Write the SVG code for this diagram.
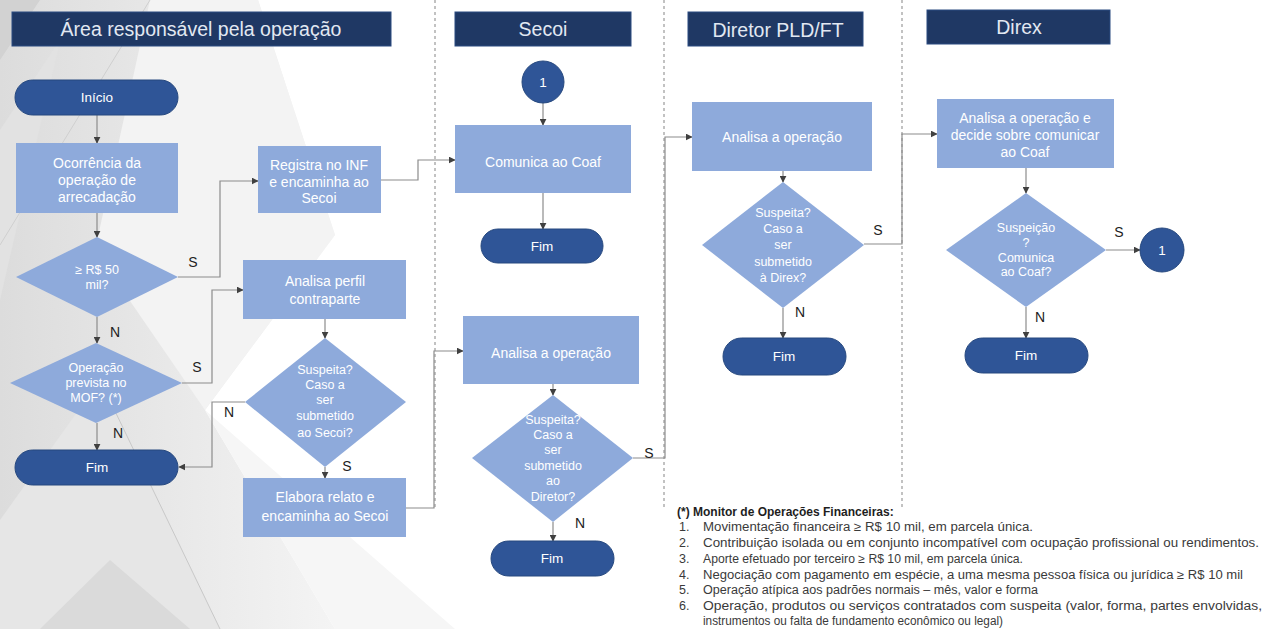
<svg xmlns="http://www.w3.org/2000/svg" width="1270" height="629" viewBox="0 0 1270 629">
<style>
.hdr{fill:#1f3864;stroke:#2a4a80;stroke-width:1}
.hdrt{fill:#e2e8f2;font-family:"Liberation Sans",Arial,sans-serif;font-size:19.5px;text-anchor:middle}
.term{fill:#2f5597;stroke:#27497f;stroke-width:1}
.proc{fill:#8eaadb}
.dec{fill:#8eaadb}
.nt{fill:#ffffff;font-family:"Liberation Sans",Arial,sans-serif;font-size:14px;text-anchor:middle}
.dt{fill:#ffffff;font-family:"Liberation Sans",Arial,sans-serif;font-size:12.5px;text-anchor:middle}
.tt{fill:#ffffff;font-family:"Liberation Sans",Arial,sans-serif;font-size:13.5px;text-anchor:middle}
.lbl{fill:#222;font-family:"Liberation Sans",Arial,sans-serif;font-size:14px;text-anchor:middle}
.con{fill:none;stroke:#8c8c8c;stroke-width:1.2;marker-end:url(#ah)}
.lane{stroke:#9a9a9a;stroke-width:1.2;stroke-dasharray:3 3}
.fn{fill:#3a3a3a;font-family:"Liberation Sans",Arial,sans-serif;font-size:12.5px}
.fnb{fill:#1e1e1e;font-family:"Liberation Sans",Arial,sans-serif;font-size:12px;font-weight:bold}
</style>
<defs>
<marker id="ah" viewBox="0 0 10 10" refX="9" refY="5" markerWidth="7" markerHeight="7" orient="auto" markerUnits="userSpaceOnUse">
<path d="M0,0 L10,5 L0,10 z" fill="#404040"/>
</marker>
<linearGradient id="bg1" x1="0" y1="0" x2="1" y2="0">
<stop offset="0" stop-color="#dcdcdc"/>
<stop offset="1" stop-color="#f4f4f4"/>
</linearGradient>
</defs>
<rect width="1270" height="629" fill="#ffffff"/>
<g id="background">
<polygon points="0,0 258,0 335,235 205,410 335,629 0,629" fill="url(#bg1)"/>
<polygon points="150,0 258,0 335,235 205,410 95,250" fill="#f3f3f3"/>
<polygon points="0,0 40,0 0,60" fill="#d2d2d2"/>
<polygon points="0,130 60,40 0,300" fill="#e2e2e2"/>
<polygon points="205,410 335,629 455,629" fill="#f6f6f6"/>
<polygon points="100,380 220,629 0,629 0,520" fill="#e6e6e6"/>
<polygon points="40,629 110,560 190,629" fill="#dadada"/>
<line x1="150" y1="0" x2="0" y2="245" stroke="#cfcfcf" stroke-width="1"/>
<line x1="100" y1="380" x2="220" y2="629" stroke="#c8c8c8" stroke-width="1"/>
</g>
<g id="lanes">
<line class="lane" x1="435" y1="0" x2="435" y2="508"/>
<line class="lane" x1="664" y1="0" x2="664" y2="508"/>
<line class="lane" x1="902" y1="0" x2="902" y2="508"/>
</g>
<g id="headers">
<g id="h-area"><rect class="hdr" x="12" y="12" width="379" height="34"/><text class="hdrt" x="201" y="36">Área responsável pela operação</text></g>
<g id="h-secoi"><rect class="hdr" x="455" y="12" width="176" height="34"/><text class="hdrt" x="543" y="36">Secoi</text></g>
<g id="h-diretor"><rect class="hdr" x="688" y="12" width="175" height="34"/><text class="hdrt" x="778" y="37">Diretor PLD/FT</text></g>
<g id="h-direx"><rect class="hdr" x="927" y="10" width="183" height="34"/><text class="hdrt" x="1019" y="34">Direx</text></g>
</g>
<g id="connectors">
<path class="con" d="M97,115 V143"/>
<path class="con" d="M97,213 V237"/>
<path class="con" d="M178,277 H220 V181 H258"/>
<path class="con" d="M97,317 V343"/>
<path class="con" d="M182,383 H212 V290 H243"/>
<path class="con" d="M97,423 V450"/>
<path class="con" d="M325,319 V338"/>
<path class="con" d="M245,402 H212 V467 H179"/>
<path class="con" d="M325,467 V478"/>
<path class="con" d="M406,508 H434 V351 H463"/>
<path class="con" d="M381,180 H418 V160 H455"/>
<path class="con" d="M543,103 V125"/>
<path class="con" d="M543,193 V229"/>
<path class="con" d="M553,384 V395"/>
<path class="con" d="M553,522 V541"/>
<path class="con" d="M633,458 H665 V137 H692"/>
<path class="con" d="M783,171 V182"/>
<path class="con" d="M783,308 V338"/>
<path class="con" d="M864,244 H902 V134 H937"/>
<path class="con" d="M1026,168 V193"/>
<path class="con" d="M1106,250 H1140"/>
<path class="con" d="M1026,307 V338"/>
<text class="lbl" x="193" y="267">S</text>
<text class="lbl" x="115" y="337">N</text>
<text class="lbl" x="197" y="372">S</text>
<text class="lbl" x="118" y="438">N</text>
<text class="lbl" x="229" y="417">N</text>
<text class="lbl" x="347" y="471">S</text>
<text class="lbl" x="580" y="528">N</text>
<text class="lbl" x="649" y="458">S</text>
<text class="lbl" x="800" y="317">N</text>
<text class="lbl" x="878" y="235">S</text>
<text class="lbl" x="1119" y="237">S</text>
<text class="lbl" x="1040" y="322">N</text>
</g>
<g id="n-inicio"><rect class="term" x="15" y="80" width="163" height="35" rx="17.5"/><text class="tt" x="97" y="102">Início</text></g>
<g id="n-ocorrencia"><rect class="proc" x="16" y="143" width="162" height="70"/><text class="nt" x="97" y="168">Ocorrência da</text><text class="nt" x="97" y="185">operação de</text><text class="nt" x="97" y="202">arrecadação</text></g>
<g id="n-d50"><polygon class="dec" points="97,237 178,277 97,317 16,277"/><text class="dt" x="97" y="274">≥ R$ 50</text><text class="dt" x="97" y="289">mil?</text></g>
<g id="n-dmof"><polygon class="dec" points="96,343 182,383 96,423 10,383"/><text class="dt" x="96" y="372">Operação</text><text class="dt" x="96" y="387">prevista no</text><text class="dt" x="96" y="402">MOF? (*)</text></g>
<g id="n-fim1"><rect class="term" x="15" y="450" width="163" height="35" rx="17.5"/><text class="tt" x="97" y="472">Fim</text></g>
<g id="n-registra"><rect class="proc" x="258" y="146" width="123" height="67"/><text class="nt" x="319" y="170">Registra no INF</text><text class="nt" x="319" y="187">e encaminha ao</text><text class="nt" x="319" y="203">Secoi</text></g>
<g id="n-perfil"><rect class="proc" x="243" y="260" width="163" height="59"/><text class="nt" x="325" y="286">Analisa perfil</text><text class="nt" x="325" y="304">contraparte</text></g>
<g id="n-dsecoi"><polygon class="dec" points="325,338 406,402 325,467 245,402"/><text class="dt" x="325" y="374">Suspeita?</text><text class="dt" x="325" y="389">Caso a</text><text class="dt" x="325" y="404">ser</text><text class="dt" x="325" y="420">submetido</text><text class="dt" x="325" y="437">ao Secoi?</text></g>
<g id="n-elabora"><rect class="proc" x="243" y="478" width="163" height="59"/><text class="nt" x="325" y="502">Elabora relato e</text><text class="nt" x="325" y="521">encaminha ao Secoi</text></g>
<g id="n-c1a"><circle cx="543" cy="82" r="21" fill="#2f5597" stroke="#27497f"/><text class="tt" x="543" y="87">1</text></g>
<g id="n-comunica"><rect class="proc" x="455" y="125" width="176" height="68"/><text class="nt" x="543" y="167">Comunica ao Coaf</text></g>
<g id="n-fim2"><rect class="term" x="481" y="229" width="122" height="34" rx="17"/><text class="tt" x="542" y="251">Fim</text></g>
<g id="n-analisa1"><rect class="proc" x="463" y="316" width="176" height="68"/><text class="nt" x="551" y="358">Analisa a operação</text></g>
<g id="n-ddiretor"><polygon class="dec" points="553,395 633,458 553,522 472,458"/><text class="dt" x="553" y="424">Suspeita?</text><text class="dt" x="553" y="439">Caso a</text><text class="dt" x="553" y="454">ser</text><text class="dt" x="553" y="470">submetido</text><text class="dt" x="553" y="485">ao</text><text class="dt" x="553" y="501">Diretor?</text></g>
<g id="n-fim3"><rect class="term" x="491" y="541" width="123" height="35" rx="17.5"/><text class="tt" x="552" y="563">Fim</text></g>
<g id="n-analisa2"><rect class="proc" x="692" y="102" width="180" height="69"/><text class="nt" x="782" y="142">Analisa a operação</text></g>
<g id="n-ddirex"><polygon class="dec" points="783,182 864,245 783,308 702,245"/><text class="dt" x="783" y="217">Suspeita?</text><text class="dt" x="783" y="233">Caso a</text><text class="dt" x="783" y="249">ser</text><text class="dt" x="783" y="266">submetido</text><text class="dt" x="783" y="282">à Direx?</text></g>
<g id="n-fim4"><rect class="term" x="723" y="338" width="123" height="37" rx="18.5"/><text class="tt" x="784" y="361">Fim</text></g>
<g id="n-analisa3"><rect class="proc" x="937" y="99" width="177" height="69"/><text class="nt" x="1025" y="123">Analisa a operação e</text><text class="nt" x="1025" y="140">decide sobre comunicar</text><text class="nt" x="1025" y="157">ao Coaf</text></g>
<g id="n-dcoaf"><polygon class="dec" points="1026,193 1106,250 1026,307 946,250"/><text class="dt" x="1026" y="232">Suspeição</text><text class="dt" x="1026" y="247">?</text><text class="dt" x="1026" y="262">Comunica</text><text class="dt" x="1026" y="276">ao Coaf?</text></g>
<g id="n-c1b"><circle cx="1162" cy="250" r="22" fill="#2f5597" stroke="#27497f"/><text class="tt" x="1162" y="255">1</text></g>
<g id="n-fim5"><rect class="term" x="965" y="338" width="123" height="35" rx="17.5"/><text class="tt" x="1026" y="360">Fim</text></g>
<g id="footnote">
<text class="fnb" x="677" y="516">(*) Monitor de Operações Financeiras:</text>
<text class="fn" x="679" y="531">1.</text><text class="fn" x="703" y="531" textLength="330" lengthAdjust="spacingAndGlyphs">Movimentação financeira ≥ R$ 10 mil, em parcela única.</text>
<text class="fn" x="679" y="547">2.</text><text class="fn" x="703" y="547" textLength="556" lengthAdjust="spacingAndGlyphs">Contribuição isolada ou em conjunto incompatível com ocupação profissional ou rendimentos.</text>
<text class="fn" x="679" y="563">3.</text><text class="fn" x="703" y="563" textLength="320" lengthAdjust="spacingAndGlyphs">Aporte efetuado por terceiro ≥ R$ 10 mil,  em parcela única.</text>
<text class="fn" x="679" y="579">4.</text><text class="fn" x="703" y="579" textLength="540" lengthAdjust="spacingAndGlyphs">Negociação com pagamento em espécie, a uma mesma pessoa física ou jurídica ≥ R$ 10 mil</text>
<text class="fn" x="679" y="594">5.</text><text class="fn" x="703" y="594" textLength="335" lengthAdjust="spacingAndGlyphs">Operação atípica aos padrões normais – mês, valor e forma</text>
<text class="fn" x="679" y="610">6.</text><text class="fn" x="703" y="610" textLength="559" lengthAdjust="spacingAndGlyphs">Operação, produtos ou serviços contratados com suspeita (valor, forma, partes envolvidas,</text>
<text class="fn" x="703" y="625" textLength="300" lengthAdjust="spacingAndGlyphs">instrumentos ou falta de fundamento econômico ou legal)</text>
</g>
</svg>
